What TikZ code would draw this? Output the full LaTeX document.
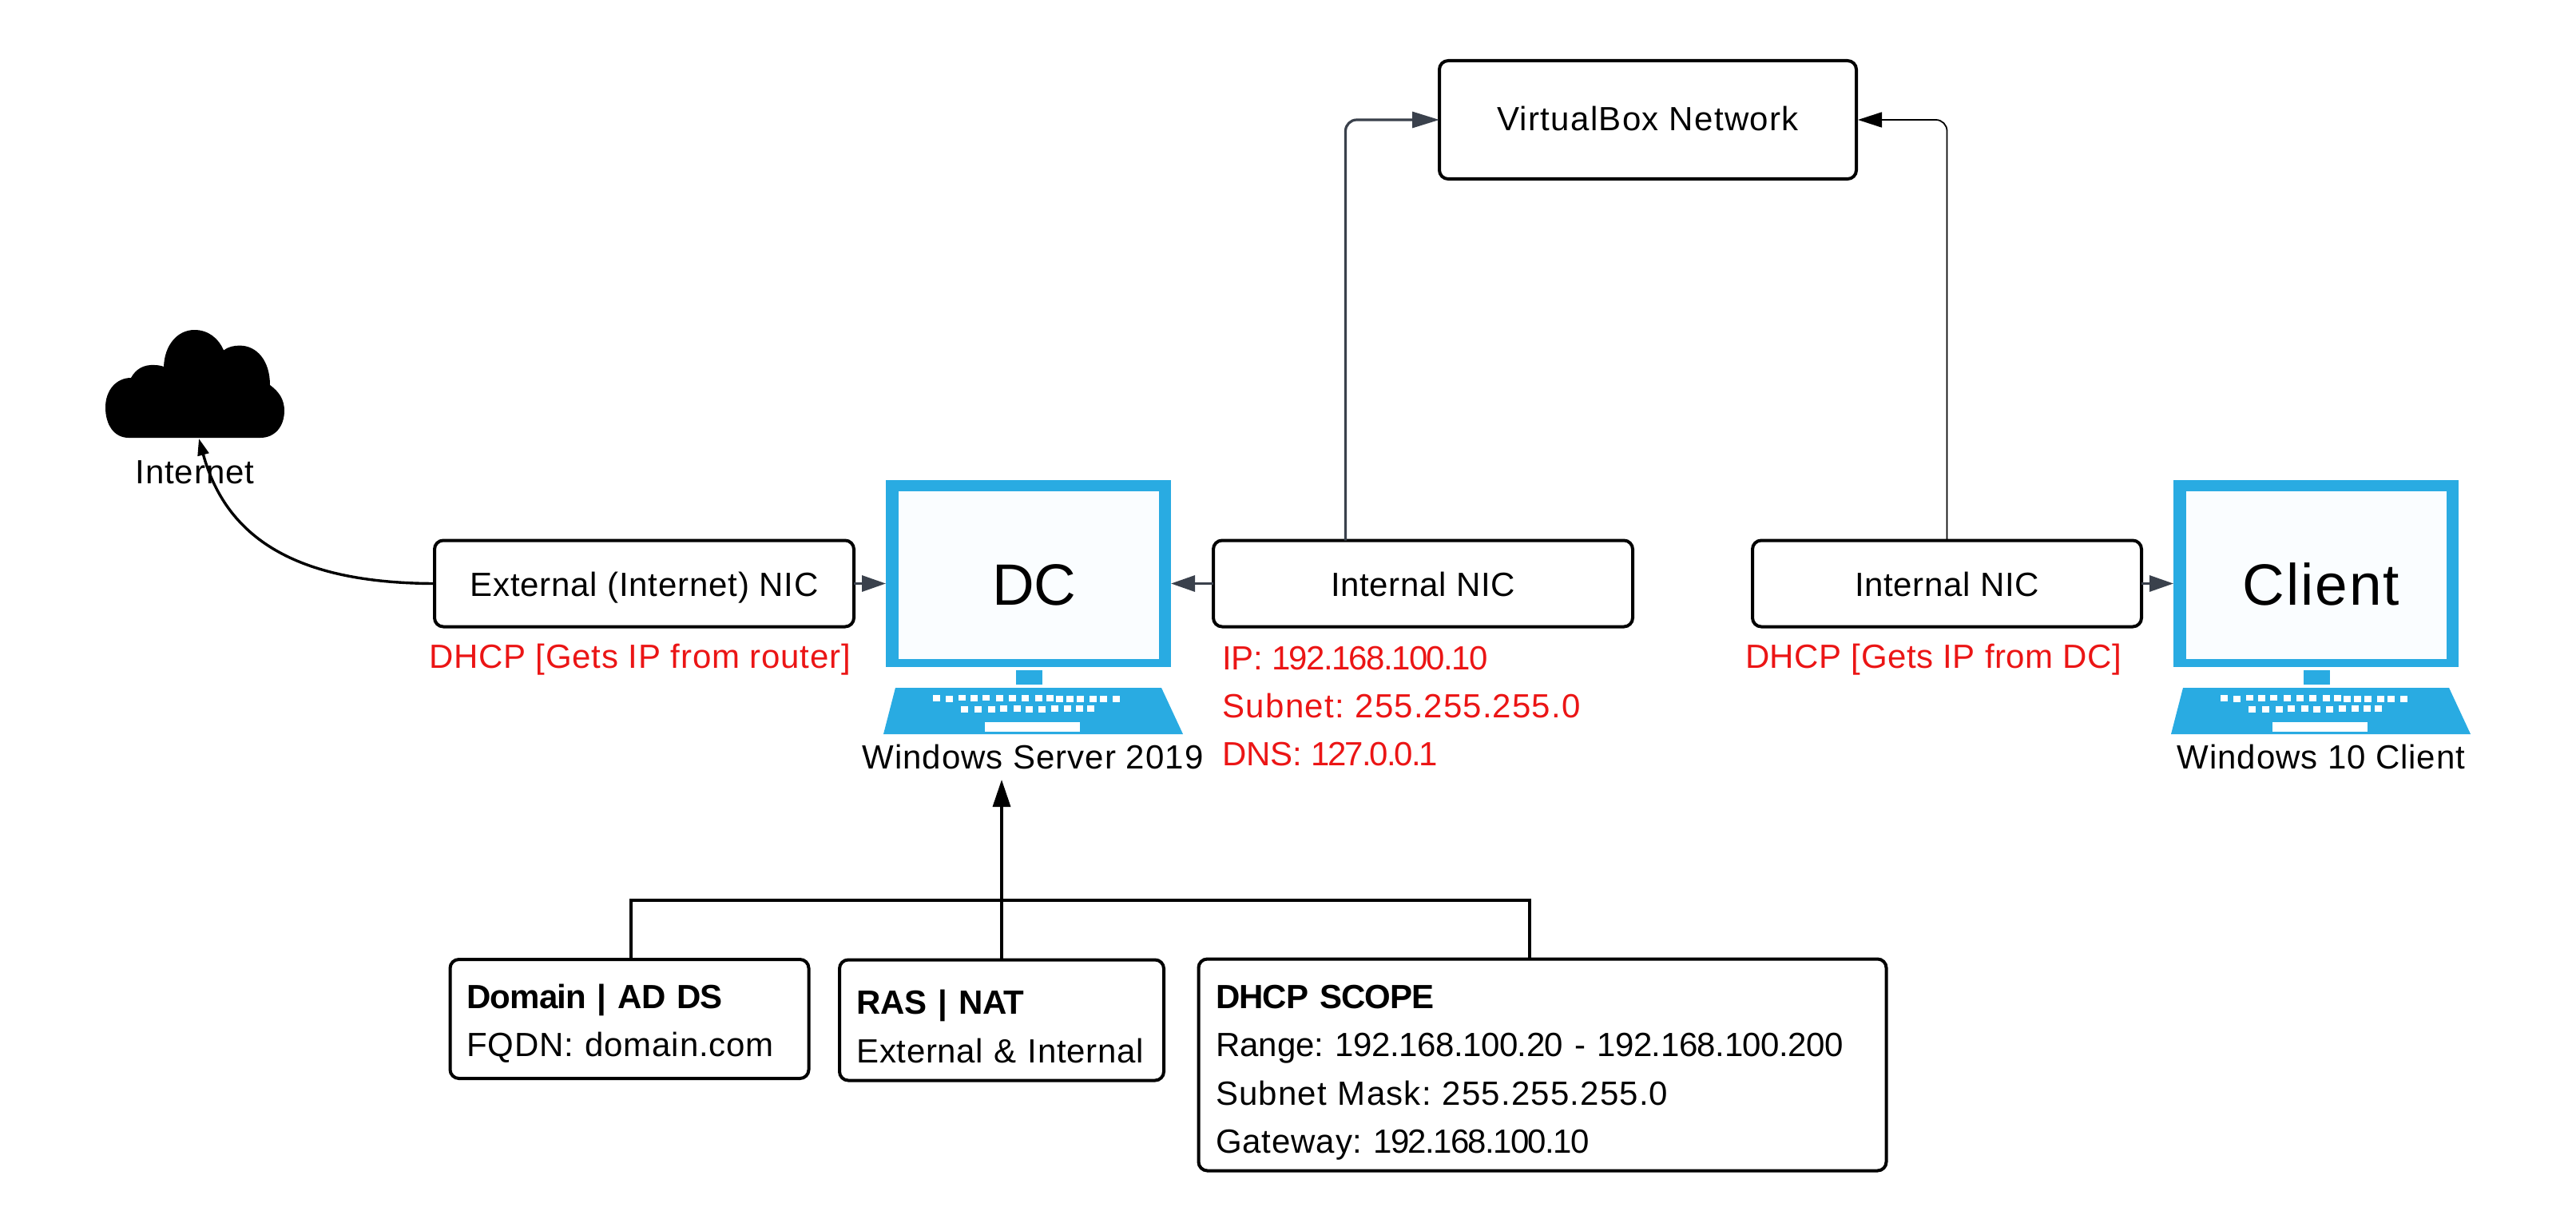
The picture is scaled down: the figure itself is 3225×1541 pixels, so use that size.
\documentclass[tikz,border=0pt]{standalone}
\usepackage{fontspec}
\setmainfont{Liberation Sans}
\usetikzlibrary{arrows.meta}
\AtBeginDocument{\frenchspacing}
\definecolor{monblue}{HTML}{29ABE2}
\definecolor{scr}{HTML}{FAFDFF}
\definecolor{redtxt}{HTML}{EB1515}
\definecolor{slate}{HTML}{3A414C}
\newcommand{\lsp}[2]{{\addfontfeatures{LetterSpace=#1}#2}}
\newcommand{\topr}[1]{\rule{0pt}{#1pt}}
\newcommand{\botr}[1]{\rule[-#1pt]{0pt}{#1pt}}
\tikzset{
  every node/.style={font=\fontsize{42}{60.5}\selectfont, inner sep=0pt, outer sep=0pt},
  box/.style={draw=black, line width=4pt, rounded corners=11pt, fill=white, align=center, text height=40pt, text depth=9pt},
  infobox/.style={draw=black, line width=4pt, rounded corners=11pt, fill=white, align=left, inner xsep=21.5pt},
  plain/.style={anchor=base},
  redlabel/.style={text=redtxt, anchor=base west},
  frame/.style={fill=monblue, minimum width=357pt, minimum height=234pt},
  screenbox/.style={fill=scr, minimum width=326pt, minimum height=210pt},
  bigtext/.style={font=\fontsize{73}{80}\selectfont, anchor=base},
  conn/.style={line width=3.4pt, draw=black, -{Triangle[length=34pt,width=22pt]}},
  slatearrow/.style={line width=3.2pt, draw=slate, -{Triangle[length=30pt,width=20pt]}},
  plainline/.style={line width=3.4pt, draw=black},
}
\newcommand{\monitorparts}[1]{%
  \begin{scope}[shift={(#1,0)}]
    \fill[monblue] (1272,839) rectangle (1305,857);
    \fill[monblue] (1121,861) -- (1454,861) -- (1481,919) -- (1106,919) -- cycle;
    \foreach \kx/\ky in {354/931,402/934,450/930,495/931,540/930,591/931,639/931,687/931,738/931,780/931,816/934,855/934,894/934,942/934,981/934,1030/934,459/973,510/973,561/973,606/970,657/970,702/973,750/973,798/970,846/970,891/970,933/970}
      \fill[white] (1050+\kx/3,560+\ky/3) rectangle ++(9,7.4);
    \fill[white] (1233,904) rectangle (1352,916);
  \end{scope}}
\begin{document}
\begin{tikzpicture}[x=1pt,y=-1pt]
\useasboundingbox (0,0) rectangle (3225,1541);
% cloud
\fill[black] (161,548)
  .. controls (143,548) and (132,532) .. (132,510)
  .. controls (132,488) and (146,473) .. (164,473)
  .. controls (170,462) and (180,456) .. (194,457)
  .. controls (198,457) and (202,458) .. (205,459)
  .. controls (206,432) and (222,413) .. (243.5,413)
  .. controls (261,413) and (274,424) .. (280,438.5)
  .. controls (286,434) and (293,432.6) .. (300,432.6)
  .. controls (322,432.6) and (338,452) .. (338,482)
  .. controls (349,490) and (356,500) .. (356,514)
  .. controls (356,534) and (344,548) .. (326,548) -- cycle;
\node[plain] (internet) at (244,605) {\lsp{2.3}{Internet}};
% monitors
\node[frame] (dcframe) at (1287.5,718) {};
\node[screenbox] (dcscreen) at (1288,720) {};
\monitorparts{0}
\node[bigtext] (dclabel) at (1295,757) {\lsp{-1.5}{DC}};
\node[plain] (dccap) at (1293,962) {\lsp{2.4}{Windows Server 2019}};
\node[frame] (clframe) at (2899.5,718) {};
\node[screenbox] (clscreen) at (2900,720) {};
\monitorparts{1612}
\node[bigtext] (cllabel) at (2906,757.5) {\lsp{2.6}{Client}};
\node[plain] (clcap) at (2906,962) {\lsp{2.1}{Windows 10 Client}};
% boxes
\node[box, minimum width=525pt, minimum height=108pt] (extnic) at (806.5,730.5) {\lsp{1.9}{External (Internet) NIC}};
\node[box, minimum width=525pt, minimum height=108pt] (intnic) at (1781.5,730.5) {\lsp{1.6}{Internal NIC}};
\node[box, minimum width=487pt, minimum height=108pt] (clnic) at (2437.5,730.5) {\lsp{1.6}{Internal NIC}};
\node[box, text height=38pt, text depth=10pt, minimum width=522pt, minimum height=148pt] (vbox) at (2063,150) {\lsp{3.2}{VirtualBox Network}};
\node[infobox, inner xsep=21pt, minimum width=449pt, minimum height=149pt, text width=407pt] (domain) at (788,1275.5) {\topr{45}\textbf{\lsp{-2.2}{Domain | AD DS}}\\\lsp{2.0}{FQDN: domain.com}\botr{11.5}};
\node[infobox, minimum width=406pt, minimum height=151pt, text width=363pt] (ras) at (1254,1277) {\topr{58}\textbf{\lsp{-1}{RAS | NAT}}\\\lsp{1.5}{External \& Internal}\botr{12}};
\node[infobox, minimum width=861pt, minimum height=265pt, text width=818pt] (scope) at (1931,1333) {\topr{51.5}\textbf{\lsp{-2.3}{DHCP SCOPE}}\\Range: \lsp{-1.1}{192.168.100.20 - 192.168.100.200}\\\lsp{2.8}{Subnet Mask: 255.255.255.0}\\\lsp{2.1}{Gateway: }\lsp{-4}{192.168.100.10}\botr{12}};
% red labels
\node[redlabel] (extip) at (537,836) {\lsp{1.9}{DHCP [Gets IP from router]}};
\node[text=redtxt, anchor=north west, align=left, font=\fontsize{42}{60}\selectfont] (intip) at (1530,803) {\topr{35}\lsp{-0.6}{IP: }\lsp{-4}{192.168.100.10}\\\lsp{3.5}{Subnet: }\lsp{2.6}{255.255.255.0}\\\lsp{-0.5}{DNS: }\lsp{-4.8}{127.0.0.1}};
\node[redlabel] (clip) at (2185,836) {\lsp{1.3}{DHCP [Gets IP from DC]}};
% connectors
\draw[slatearrow] (extnic.east) -- (dcframe.west |- extnic.east);
\draw[slatearrow] (intnic.west) -- (dcframe.east |- intnic.west);
\draw[slatearrow] (clnic.east) -- (clframe.west |- clnic.east);
\draw[slatearrow, rounded corners=14pt, -{Triangle[length=34pt,width=20pt]}] ([xshift=-97pt]intnic.north) |- (vbox.west);
\draw[line width=1.8pt, draw=black, rounded corners=14pt, -{Triangle[length=30pt,width=19pt]}] (clnic.north) |- ([xshift=2pt]vbox.east);
\draw[line width=3.4pt, draw=black, -{Triangle[length=21pt,width=14pt]}] (extnic.west) .. controls (380,730) and (285,680) .. (249,549);
\coordinate (bustip) at (1254,976);
\coordinate (busy) at (1254,1127);
\draw[conn] (ras.north) -- (bustip);
\draw[plainline] ([xshift=2pt]domain.north) |- (busy);
\draw[plainline] ([xshift=-16pt]scope.north) |- (busy);
\end{tikzpicture}
\end{document}
